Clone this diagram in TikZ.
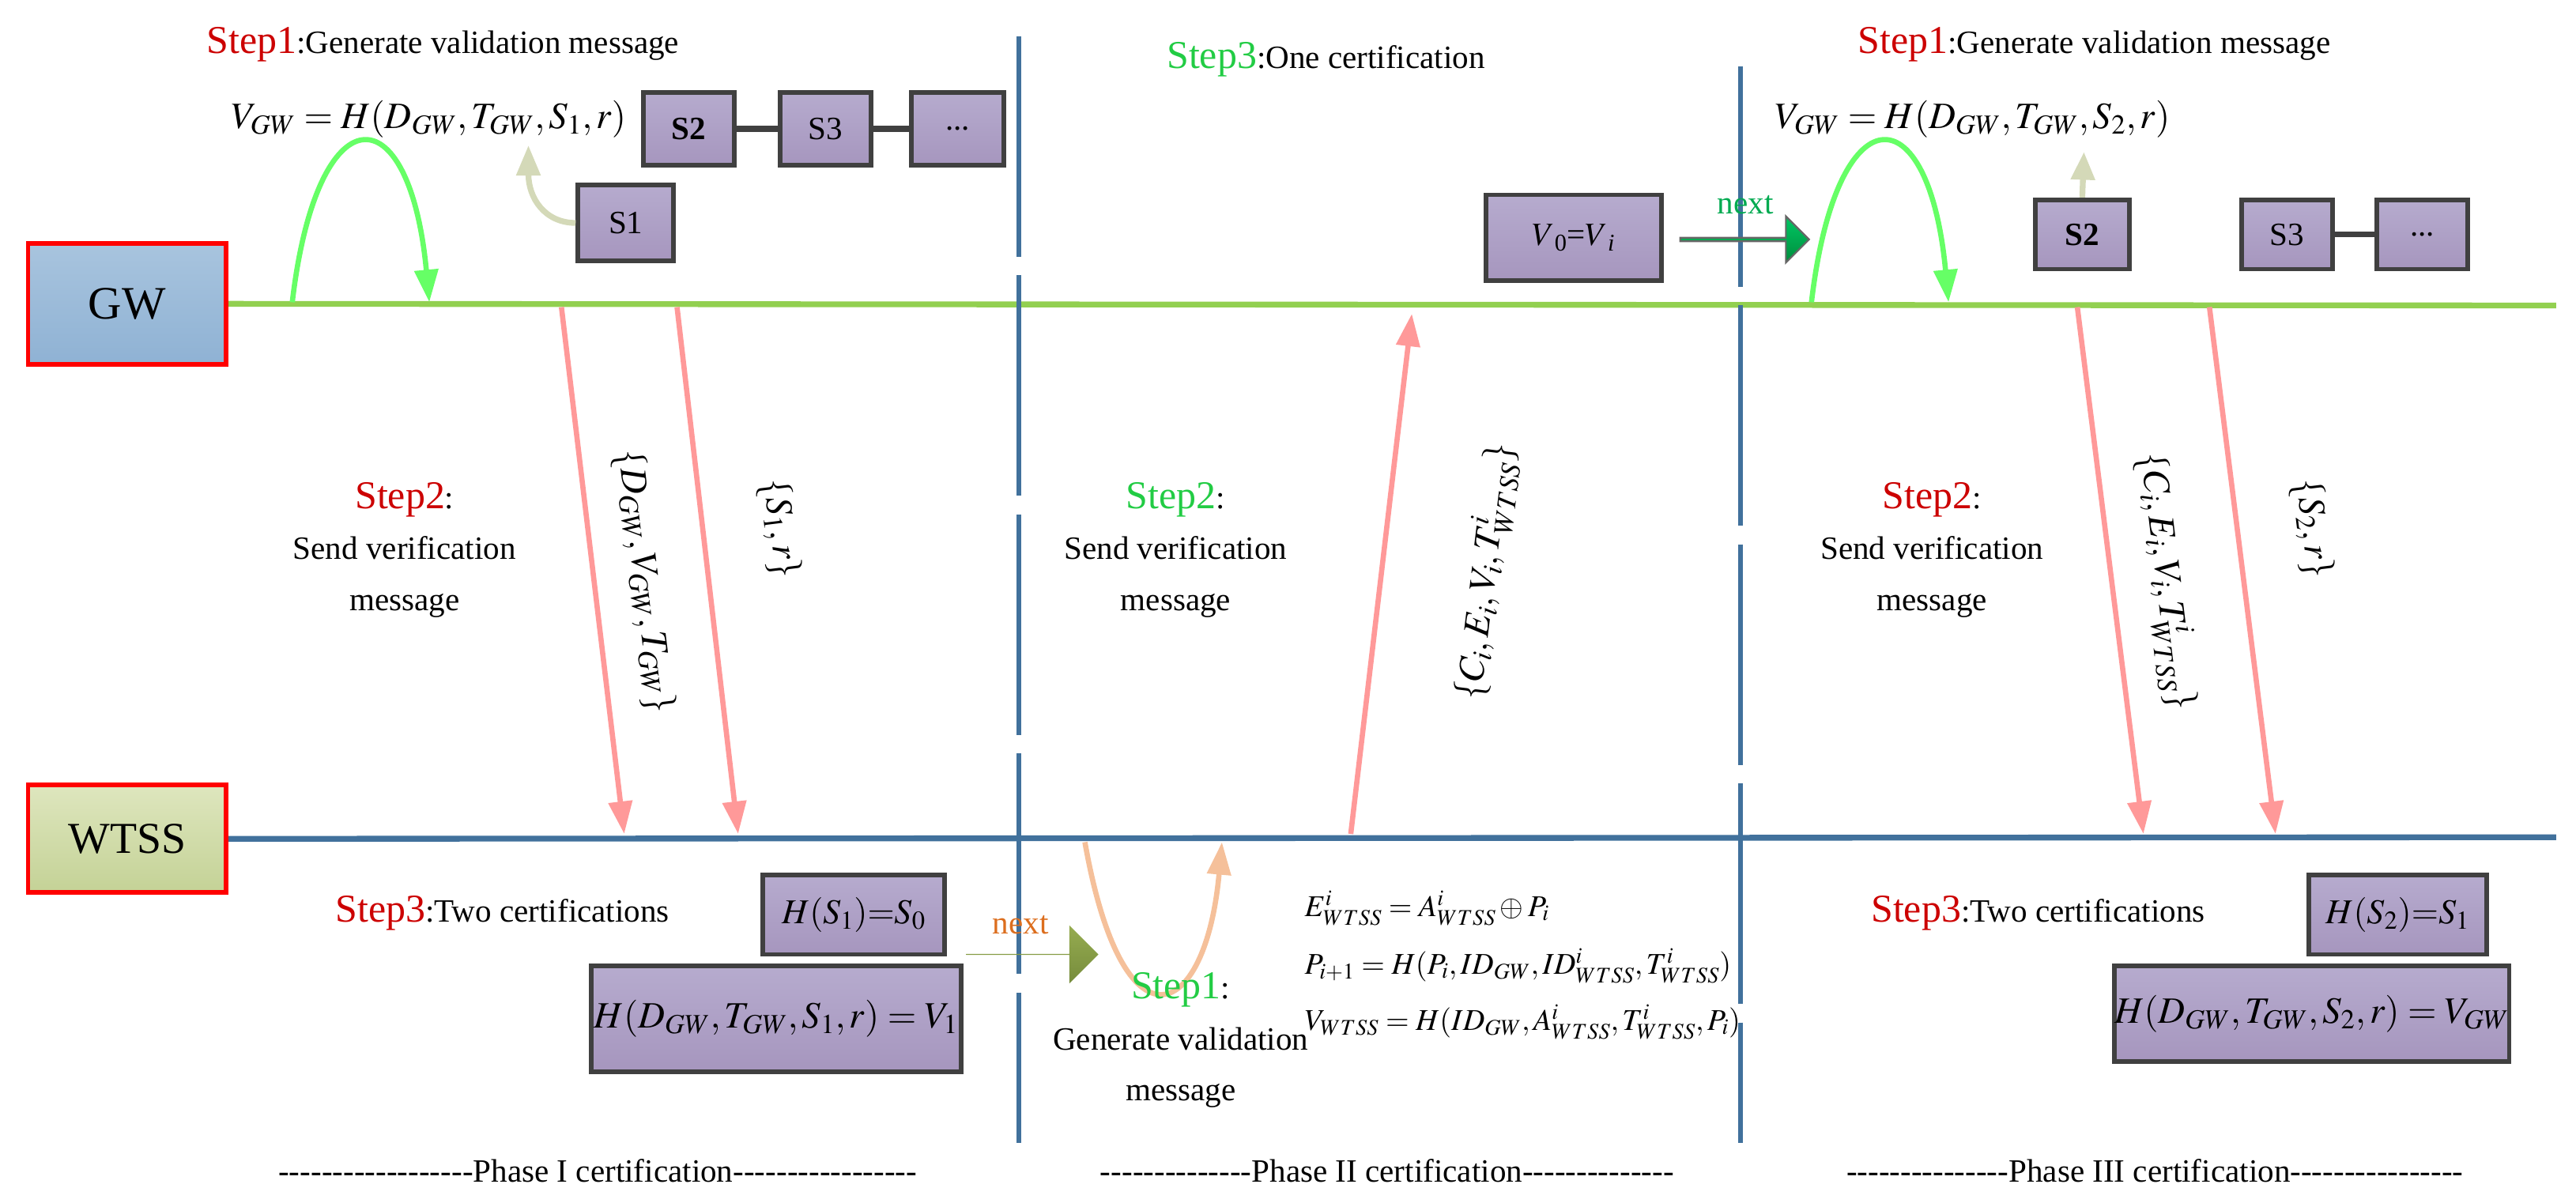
\documentclass[tikz,border=0pt]{standalone}
\usepackage{mathptmx}
\usepackage[no-math]{fontspec}
\setmainfont{Liberation Serif}[Ligatures=TeXOff]
\usetikzlibrary{arrows.meta,shapes.arrows}
\definecolor{gwl}{HTML}{92D050}
\definecolor{wl}{HTML}{41719C}
\definecolor{pk}{HTML}{FF9999}
\definecolor{pu1}{HTML}{B6ABCE}
\definecolor{pu2}{HTML}{A696BE}
\definecolor{stepred}{HTML}{CC0000}
\definecolor{stepgreen}{HTML}{22CC44}
\definecolor{beige}{HTML}{D4D9B8}
\definecolor{peach}{HTML}{F5C09A}
\definecolor{lgreen}{HTML}{66FF66}
\begin{document}
\begin{tikzpicture}[x=0.05cm,y=-0.05cm,
  base/.style={font=\fontsize{28}{32}\selectfont},
  every node/.style={base,inner sep=0pt},
  box/.style={draw=black!75,line width=4pt,top color=pu1,bottom color=pu2,minimum height=#1*0.05cm},
  box/.default=44,
  msg/.style={align=center,font=\fontsize{28}{44}\selectfont},
  pka/.style={pk,line width=4.5pt,-{Triangle[length=28pt,width=20pt]}},
  dv/.style={wl,line width=4pt,dash pattern=on 190pt off 16pt},
  lbl/.style={font=\fontsize{32}{36}\selectfont}]
\useasboundingbox (0,0) rectangle (1560,728.5);
\node[draw=red,line width=4pt,top color={rgb,255:red,168;green,196;blue,222},bottom color={rgb,255:red,143;green,178;blue,212},minimum width=120*0.05cm,minimum height=73*0.05cm,font=\fontsize{40}{44}\selectfont] (gw) at (77,184) {GW};
\node[draw=red,line width=4pt,top color={rgb,255:red,222;green,230;blue,190},bottom color={rgb,255:red,196;green,210;blue,150},minimum width=120*0.05cm,minimum height=65*0.05cm,font=\fontsize{38}{42}\selectfont] (wt) at (77,508) {WTSS};
\coordinate (gwe) at (1548,185);
\coordinate (wte) at (1548,507);
\draw[gwl,line width=5pt] (gw.east) -- (gwe);
\draw[wl,line width=5pt] (wt.east) -- (wte);
\coordinate (d1a) at (617,22); \coordinate (d1b) at (617,692);
\coordinate (d2a) at (1054,40); \coordinate (d2b) at (1054,692);
\draw[dv] (d1a) -- (d1b);
\draw[dv] (d2a) -- (d2b);
% ---------- Phase I
\node[anchor=west] (s1t) at (125,27) {\textcolor{stepred}{\fontsize{34}{38}\selectfont Step1}:Generate validation message};
\node[anchor=west,lbl] (f1) at (140,72) {$V_{GW}=H(D_{GW},T_{GW},S_1,r)$};
\node[box,minimum width=55*0.05cm,font=\fontsize{28}{32}\selectfont\bfseries] (bs2) at (417,78) {S2};
\node[box,minimum width=55*0.05cm] (bs3) at (500,78) {S3};
\node[box,minimum width=56*0.05cm] (bsd) at (580,78) {...};
\draw[black!75,line width=5pt] (bs2) -- (bs3);
\draw[black!75,line width=5pt] (bs3) -- (bsd);
\node[box=46,minimum width=58*0.05cm] (bs1) at (379,135) {S1};
\coordinate (a1e) at (320,88);
\draw[beige,line width=5pt,-{Triangle[length=26pt,width=20pt]}] (bs1.west) .. controls (330,135) and (320,120) .. (a1e);
\coordinate (g1a) at (177,183); \coordinate (g1b) at (260,183);
\draw[lgreen,line width=4.5pt,-{Triangle[length=28pt,width=20pt]}] (g1a) .. controls (192,55) and (248,55) .. (g1b);
\coordinate (p1a) at (340,186); \coordinate (p1b) at (378,505);
\coordinate (p2a) at (410,186); \coordinate (p2b) at (447,505);
\draw[pka] (p1a) -- (p1b);
\draw[pka] (p2a) -- (p2b);
\node[lbl,rotate=-83] (l1) at (390,352) {$\{D_{GW},V_{GW},T_{GW}\}$};
\node[lbl,rotate=-83] (l2) at (472,320) {$\{S_1,r\}$};
\node[msg] (m1) at (245,333) {\textcolor{stepred}{\fontsize{34}{38}\selectfont Step2}:\\Send verification\\message};
\node[anchor=west] (s3t) at (203,553) {\textcolor{stepred}{\fontsize{34}{38}\selectfont Step3}:Two certifications};
\node[box=48,minimum width=110*0.05cm,font=\fontsize{30}{34}\selectfont] (h1) at (517,554) {$H(S_1)\mathord{=}S_0$};
\node[box=64,minimum width=224*0.05cm,lbl] (h2) at (470,617) {$H(D_{GW},T_{GW},S_1,r)=V_1$};
\node[single arrow,single arrow head extend=12pt,minimum height=80*0.05cm,minimum width=50pt,top color={rgb,255:red,150;green,172;blue,80},bottom color={rgb,255:red,118;green,140;blue,60},draw=none] (n1) at (625,578) {};
\node[text={rgb,255:red,220;green,110;blue,30}] (n1t) at (618,560) {next};
\node[base] (ph1) at (362,709) {------------------Phase I certification-----------------};
% ---------- Phase II
\node (s3m) at (803,36) {\textcolor{stepgreen}{\fontsize{34}{38}\selectfont Step3}:One certification};
\node[box=52,minimum width=106*0.05cm] (v0) at (953,144) {$V$\textsubscript{0}=$V$\textsubscript{\textit{i}}};
\node[single arrow,single arrow head extend=9pt,minimum height=78*0.05cm,minimum width=40pt,top color={rgb,255:red,0;green,200;blue,100},bottom color={rgb,255:red,0;green,140;blue,60},draw=black!60,line width=1.5pt] (n2) at (1056,145) {};
\node[text={rgb,255:red,0;green,170;blue,80}] (n2t) at (1057,124) {next};
\coordinate (p3a) at (818,505); \coordinate (p3b) at (855,190);
\draw[pka] (p3a) -- (p3b);
\node[lbl,rotate=83] (l3) at (900,346) {$\{C_i,E_i,V_i,T^i_{WTSS}\}$};
\node[msg] (m2) at (712,333) {\textcolor{stepgreen}{\fontsize{34}{38}\selectfont Step2}:\\Send verification\\message};
\coordinate (o1a) at (657,510); \coordinate (o1b) at (740,510);
\draw[peach,line width=4.5pt,-{Triangle[length=28pt,width=20pt]}] (o1a) .. controls (680,640) and (730,620) .. (o1b);
\node[msg] (m3) at (715,630) {\textcolor{stepgreen}{\fontsize{34}{38}\selectfont Step1}:\\Generate validation\\message};
\node[anchor=west,font=\fontsize{26}{30}\selectfont] (e1) at (790,550) {$E^i_{WTSS}=A^i_{WTSS}\oplus P_i$};
\node[anchor=west,font=\fontsize{26}{30}\selectfont] (e2) at (790,585) {$P_{i+1}=H(P_i,ID_{GW},ID^i_{WTSS},T^i_{WTSS})$};
\node[anchor=west,font=\fontsize{26}{30}\selectfont] (e3) at (790,619) {$V_{WTSS}=H(ID_{GW},A^i_{WTSS},T^i_{WTSS},P_i)$};
\node[base] (ph2) at (840,709) {--------------Phase II certification--------------};
% ---------- Phase III
\node[anchor=west] (s1r) at (1125,27) {\textcolor{stepred}{\fontsize{34}{38}\selectfont Step1}:Generate validation message};
\node[anchor=west,lbl] (f2) at (1075,72) {$V_{GW}=H(D_{GW},T_{GW},S_2,r)$};
\coordinate (g2a) at (1097,183); \coordinate (g2b) at (1180,183);
\draw[lgreen,line width=4.5pt,-{Triangle[length=28pt,width=20pt]}] (g2a) .. controls (1112,55) and (1168,55) .. (g2b);
\node[box=42,minimum width=57*0.05cm,font=\fontsize{28}{32}\selectfont\bfseries] (r2) at (1261,142) {S2};
\coordinate (a2e) at (1262,92);
\draw[beige,line width=5pt,-{Triangle[length=24pt,width=20pt]}] (r2.north) -- (a2e);
\node[box=42,minimum width=55*0.05cm] (r3) at (1385,142) {S3};
\node[box=42,minimum width=55*0.05cm] (rd) at (1467,142) {...};
\draw[black!75,line width=5pt] (r3) -- (rd);
\coordinate (p4a) at (1258,186); \coordinate (p4b) at (1298,505);
\coordinate (p5a) at (1338,186); \coordinate (p5b) at (1378,505);
\draw[pka] (p4a) -- (p4b);
\draw[pka] (p5a) -- (p5b);
\node[lbl,rotate=-83] (l4) at (1312,352) {$\{C_i,E_i,V_i,T^i_{WTSS}\}$};
\node[lbl,rotate=-83] (l5) at (1400,320) {$\{S_2,r\}$};
\node[msg] (m4) at (1170,333) {\textcolor{stepred}{\fontsize{34}{38}\selectfont Step2}:\\Send verification\\message};
\node[anchor=west] (s3r) at (1133,553) {\textcolor{stepred}{\fontsize{34}{38}\selectfont Step3}:Two certifications};
\node[box=48,minimum width=108*0.05cm,font=\fontsize{30}{34}\selectfont] (h3) at (1452,554) {$H(S_2)\mathord{=}S_1$};
\node[box=58,minimum width=216*0.05cm,lbl] (h4) at (1400,614) {$H(D_{GW},T_{GW},S_2,r)=V_{GW}$};
\node[base] (ph3) at (1305,709) {---------------Phase III certification----------------};
\end{tikzpicture}
\end{document}
